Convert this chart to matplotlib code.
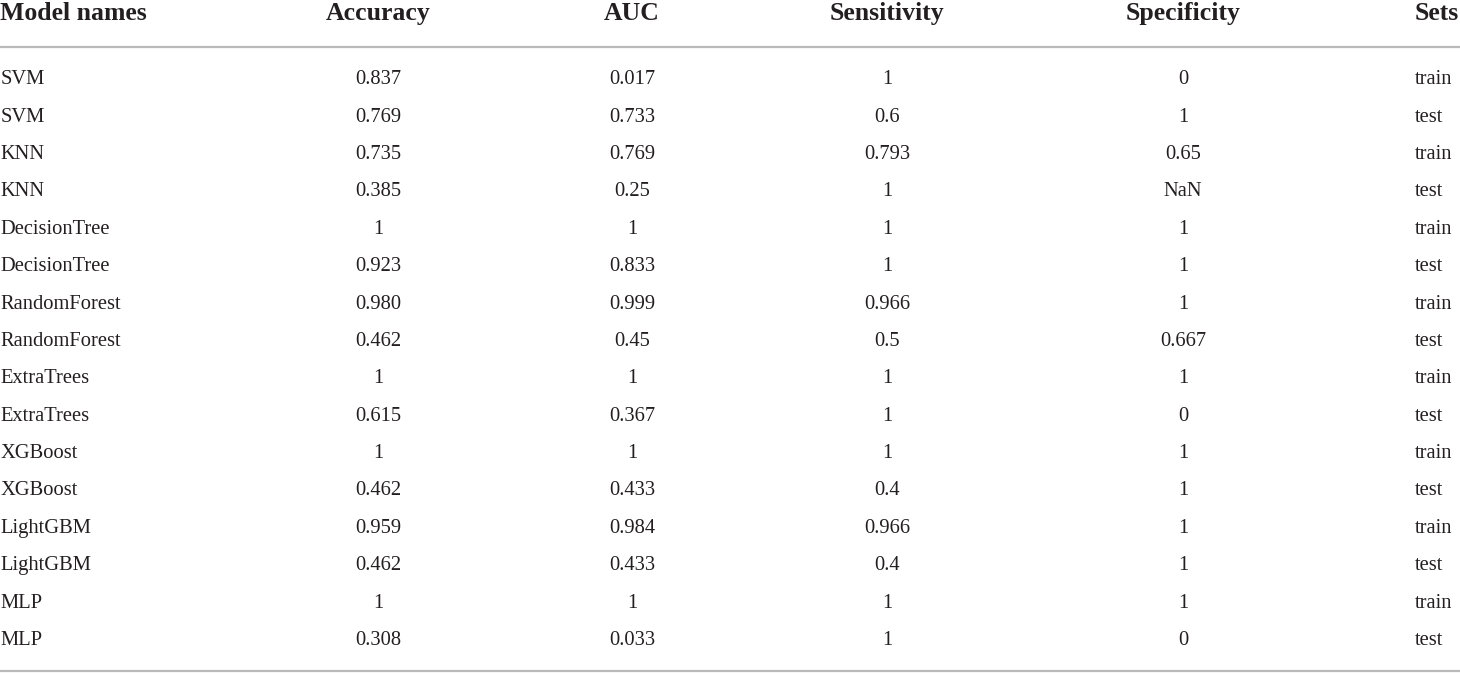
import matplotlib
matplotlib.use("Agg")
import matplotlib.pyplot as plt

headers = ["Model names", "Accuracy", "AUC", "Sensitivity", "Specificity", "Sets"]
models = ["SVM", "SVM", "KNN", "KNN", "DecisionTree", "DecisionTree",
          "RandomForest", "RandomForest", "ExtraTrees", "ExtraTrees",
          "XGBoost", "XGBoost", "LightGBM", "LightGBM", "MLP", "MLP"]
accuracy = ["0.837", "0.769", "0.735", "0.385", "1", "0.923", "0.980", "0.462",
            "1", "0.615", "1", "0.462", "0.959", "0.462", "1", "0.308"]
auc = ["0.017", "0.733", "0.769", "0.25", "1", "0.833", "0.999", "0.45",
       "1", "0.367", "1", "0.433", "0.984", "0.433", "1", "0.033"]
sensitivity = ["1", "0.6", "0.793", "1", "1", "1", "0.966", "0.5",
               "1", "1", "1", "0.4", "0.966", "0.4", "1", "1"]
specificity = ["0", "1", "0.65", "NaN", "1", "1", "1", "0.667",
               "1", "0", "1", "1", "1", "1", "1", "0"]
sets = ["train", "test"] * 8

W, H = 1460, 673
fig = plt.figure(figsize=(W / 100, H / 100), dpi=100)
ax = fig.add_axes([0, 0, 1, 1])
ax.set_xlim(0, W)
ax.set_ylim(H, 0)
ax.axis("off")

txt = "#231f20"
fam = "Liberation Serif"
col_x = [0.5, 378, 632, 887, 1183, 1415]
col_ha = ["left", "center", "center", "center", "center", "left"]

header_base = 20
for h, x, ha in zip(headers, col_x, col_ha):
    ax.text(x, header_base, h, ha=ha, va="baseline", fontsize=18.5,
            fontweight="bold", family=fam, color=txt)

ax.plot([0, W], [46.5, 46.5], color="#b9b9b9", lw=1.6, solid_capstyle="butt")
ax.plot([0, W], [671, 671], color="#b9b9b9", lw=1.6, solid_capstyle="butt")

columns = [models, accuracy, auc, sensitivity, specificity, sets]
row0 = 84.3
step = 37.38
for i in range(len(models)):
    y = row0 + i * step
    for col, x, ha in zip(columns, col_x, col_ha):
        ax.text(x, y, col[i], ha=ha, va="baseline", fontsize=14.8,
                family=fam, color=txt)

fig.savefig("out.png", dpi=100)
